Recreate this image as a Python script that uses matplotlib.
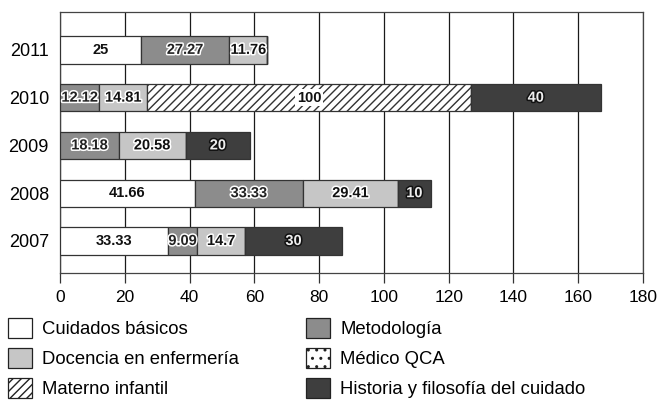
import matplotlib.pyplot as plt
import matplotlib.patheffects as pe
from matplotlib.patches import Patch
import numpy as np

plt.rcParams['font.family'] = ['Liberation Sans', 'DejaVu Sans']
plt.rcParams['hatch.linewidth'] = 1.0

years = ['2007', '2008', '2009', '2010', '2011']
series = ['Cuidados básicos', 'Metodología', 'Docencia en enfermería',
          'Materno infantil', 'Médico QCA', 'Historia y filosofía del cuidado']
cuidados = [33.33, 41.66, 0, 0, 25]
metodologia = [9.09, 33.33, 18.18, 12.12, 27.27]
docencia = [14.7, 29.41, 20.58, 14.81, 11.76]
materno = [0, 0, 0, 100, 0]
medico = [0, 0, 0, 0, 0]
historia = [30, 10, 20, 40, 0]
values = [cuidados, metodologia, docencia, materno, medico, historia]

colors = ['white', '#8c8c8c', '#c6c6c6', 'white', 'white', '#3e3e3e']
hatches = [None, None, None, '////', '..', None]
# text style: (fill colour, outline colour or None)
txt = [('#111111', None), ('#222222', 'white'), ('#111111', 'white'),
       ('#111111', None), ('#111111', None), ('#eeeeee', '#111111')]

fig = plt.figure(figsize=(6.58, 4.05), dpi=100)
ax = fig.add_axes([0.0912, 0.326, 0.886, 0.644])

y = np.arange(len(years))
left = np.zeros(len(years))
for i, vals in enumerate(values):
    vals = np.array(vals, dtype=float)
    ax.barh(y, vals, left=left, height=0.57, color=colors[i],
            hatch=hatches[i], edgecolor='#333333', linewidth=0.9, zorder=3)
    for j, v in enumerate(vals):
        if v <= 0:
            continue
        fc, oc = txt[i]
        t = ax.text(left[j] + v / 2, y[j], f'{v:g}', ha='center', va='center',
                    fontsize=10.5, fontweight='bold', color=fc, zorder=5)
        if oc:
            t.set_path_effects([pe.withStroke(linewidth=2.2, foreground=oc)])
        elif i == 3:
            t.set_bbox(dict(facecolor='white', edgecolor='none', pad=1))
    left += vals

ax.set_xlim(0, 180)
ax.set_ylim(-0.67, 4.79)
ax.set_xticks(range(0, 181, 20))
ax.set_yticks(y)
ax.set_yticklabels(years, fontsize=13)
ax.tick_params(axis='x', labelsize=12.5, length=7, width=0.9, pad=5, color='#333333')
ax.tick_params(axis='y', length=0, pad=8)
ax.grid(axis='x', color='#1a1a1a', linewidth=0.9, zorder=0)
for s in ax.spines.values():
    s.set_color('#444444')
    s.set_linewidth(0.9)

handles = [Patch(facecolor=colors[k], hatch=hatches[k], edgecolor='#222222',
                 linewidth=0.9, label=series[k]) for k in range(len(series))]
opts = dict(loc='upper left', frameon=False, fontsize=13.3, handlelength=1.3,
            handleheight=1.3, handletextpad=0.55, labelspacing=0.52, borderpad=0,
            borderaxespad=0)
fig.legend(handles=[handles[0], handles[2], handles[3]],
           bbox_to_anchor=(8 / 658, 1 - 318 / 405), **opts)
fig.legend(handles=[handles[1], handles[4], handles[5]],
           bbox_to_anchor=(306 / 658, 1 - 318 / 405), **opts)

fig.savefig('out.png', dpi=100)
